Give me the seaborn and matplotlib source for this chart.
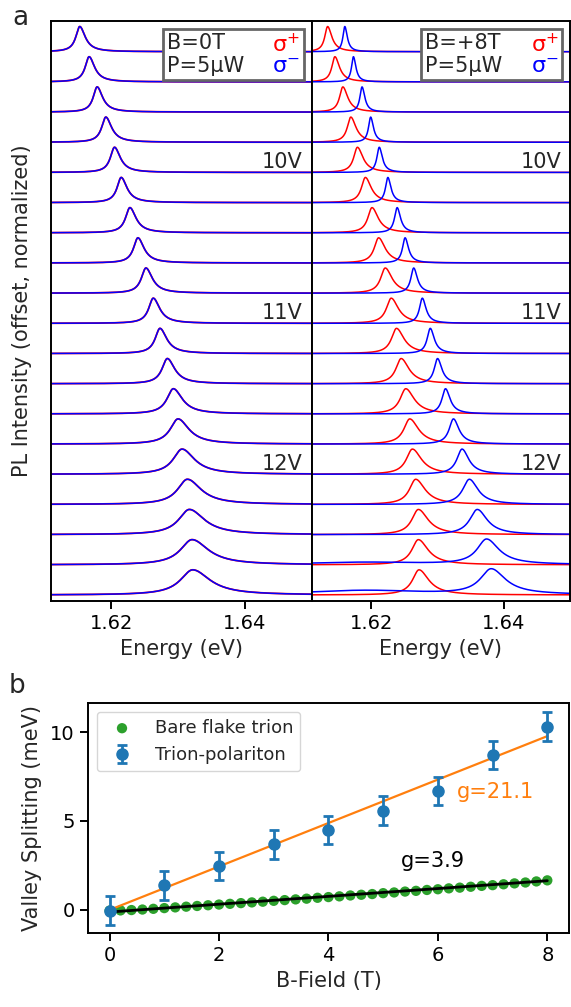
import numpy as np
import pandas as pd
import matplotlib
matplotlib.use("Agg")
import matplotlib.pyplot as plt
import seaborn as sns
from matplotlib.offsetbox import TextArea, VPacker, HPacker, AnchoredOffsetbox

# ------------------------------
# Data
# ------------------------------
# gate voltage of each spectrum, top to bottom
volts = [9.2, 9.4, 9.6, 9.8, 10.0, 10.2, 10.4, 10.6, 10.8, 11.0,
         11.2, 11.4, 11.6, 11.8, 12.0, 12.2, 12.4, 12.6, 12.8]

# B = 0 T: peak energy (eV) and FWHM (meV), both polarisations identical
peak_0T = [1.6153, 1.6167, 1.6179, 1.6192, 1.6205, 1.6215, 1.6228, 1.6240,
           1.6252, 1.6263, 1.6273, 1.6284, 1.6293, 1.6300, 1.6306, 1.6314,
           1.6317, 1.6321, 1.6322]
fwhm_0T = [1.7, 1.7, 1.7, 1.8, 1.8, 1.8, 1.9, 1.9, 2.0, 2.0,
           2.1, 2.3, 2.8, 3.4, 3.9, 4.3, 4.7, 5.1, 5.4]

# B = +8 T: sigma+ (red) and sigma- (blue)
peak_plus = [1.6134, 1.6145, 1.6157, 1.6169, 1.6179, 1.6191, 1.6201, 1.6211,
             1.6221, 1.6230, 1.6238, 1.6245, 1.6252, 1.6258, 1.6262, 1.6267,
             1.6271, 1.6271, 1.6272]
fwhm_plus = [1.3, 1.4, 1.5, 1.6, 1.7, 1.8, 1.9, 2.0, 2.1, 2.2,
             2.3, 2.4, 2.6, 2.7, 2.8, 2.9, 3.0, 3.0, 3.0]
peak_minus = [1.6160, 1.6173, 1.6186, 1.6199, 1.6212, 1.6225, 1.6239, 1.6251,
              1.6264, 1.6277, 1.6289, 1.6300, 1.6312, 1.6324, 1.6337, 1.6348,
              1.6360, 1.6374, 1.6381]
fwhm_minus = [0.8, 0.8, 0.9, 0.9, 1.0, 1.0, 1.1, 1.1, 1.2, 1.2,
              1.3, 1.4, 1.5, 1.8, 2.2, 2.8, 3.2, 4.0, 4.6]
# broad background under the weak sigma- spectra at the bottom
bg_minus = [0, 0, 0, 0, 0, 0, 0, 0, 0, 0, 0, 0, 0, 0, 0, 0, 0, 0.10, 0.18]

# panel b: valley splitting
b_polariton = [0, 1, 2, 3, 4, 5, 6, 7, 8]
split_polariton = [-0.04, 1.38, 2.47, 3.68, 4.49, 5.58, 6.70, 8.70, 10.30]
err_polariton = [0.8, 0.8, 0.8, 0.8, 0.8, 0.8, 0.8, 0.8, 0.8]

b_bare = np.linspace(0, 8, 41)
split_bare = [-0.04, -0.03, -0.01, 0.02, 0.06, 0.10, 0.14, 0.18, 0.22, 0.26,
              0.30, 0.34, 0.38, 0.42, 0.46, 0.51, 0.55, 0.59, 0.63, 0.68,
              0.72, 0.76, 0.81, 0.85, 0.89, 0.94, 0.98, 1.03, 1.07, 1.12,
              1.16, 1.21, 1.25, 1.30, 1.35, 1.39, 1.44, 1.49, 1.54, 1.60, 1.66]

fit_b = [0, 8]
fit_polariton = [0.0, 9.77]
fit_bare = [-0.12, 1.64]

# ------------------------------
# Style
# ------------------------------
sns.set_style("ticks")
plt.rcParams.update({
    "axes.linewidth": 1.4,
    "xtick.major.size": 6,
    "ytick.major.size": 6,
    "xtick.major.width": 1.4,
    "ytick.major.width": 1.4,
    "xtick.labelsize": 14,
    "ytick.labelsize": 14,
    "axes.labelsize": 15,
    "axes.edgecolor": "black",
    "xtick.color": "black",
    "ytick.color": "black",
    "mathtext.fontset": "dejavusans",
})
plt.rcParams["font.family"] = ["DejaVu Sans"]

STEP = 1.2
n = len(volts)
energy = np.linspace(1.611, 1.650, 1200)


def lorentz(center, fwhm_mev, ratio):
    w = fwhm_mev * 1e-3
    hl = w / (1 + ratio)
    hr = ratio * w / (1 + ratio)
    g = np.where(energy < center, hl, hr)
    return 1.0 / (1.0 + ((energy - center) / g) ** 2)


def stack(centers, widths, ratio, extra=None):
    frames = []
    for i, (c, w) in enumerate(zip(centers, widths)):
        y = lorentz(c, w, ratio)
        if extra is not None and extra[i] > 0:
            y = y + extra[i] * lorentz(1.619, 22, 1.0)
        frames.append(pd.DataFrame({"energy": energy,
                                    "intensity": y + (n - 1 - i) * STEP,
                                    "row": i}))
    return pd.concat(frames, ignore_index=True)


def info_box(ax, btext):
    tp = dict(size=15)
    left = VPacker(children=[TextArea(btext, textprops=tp),
                             TextArea("P=5\u03bcW", textprops=tp)],
                   sep=2, align="left", pad=0)
    right = VPacker(children=[TextArea("\u03c3$^{+}$", textprops=dict(size=16, color="red")),
                              TextArea("\u03c3$^{-}$", textprops=dict(size=16, color="blue"))],
                    sep=0, align="right", pad=0)
    box = HPacker(children=[left, right], sep=20, align="center", pad=0)
    ab = AnchoredOffsetbox(loc="upper right", child=box, pad=0.3, borderpad=0.55,
                           frameon=True, prop=dict(size=10))
    ab.patch.set_boxstyle("square", pad=0)
    ab.patch.set_edgecolor("0.4")
    ab.patch.set_linewidth(2)
    ax.add_artist(ab)


# ------------------------------
# Figure
# ------------------------------
W, H = 571, 1007
fig = plt.figure(figsize=(W / 100, H / 100), dpi=100)
ax_l = fig.add_axes([51 / W, 1 - 601 / H, 260.7 / W, 580 / H])
ax_r = fig.add_axes([311.7 / W, 1 - 601 / H, 258.3 / W, 580 / H], sharey=ax_l)
ax_b = fig.add_axes([87.7 / W, 1 - 933 / H, 481.5 / W, 230.3 / H])

# panel a, left: B = 0 T
df0 = stack(peak_0T, fwhm_0T, 1.4)
sns.lineplot(data=df0, x="energy", y="intensity", units="row", estimator=None,
             sort=False, color="red", lw=1.3, ax=ax_l)
sns.lineplot(data=df0, x="energy", y="intensity", units="row", estimator=None,
             sort=False, color="blue", lw=1.1, ax=ax_l)

# panel a, right: B = +8 T
dfp = stack(peak_plus, fwhm_plus, 1.5)
dfm = stack(peak_minus, fwhm_minus, 1.3, extra=bg_minus)
sns.lineplot(data=dfp, x="energy", y="intensity", units="row", estimator=None,
             sort=False, color="red", lw=1.1, ax=ax_r)
sns.lineplot(data=dfm, x="energy", y="intensity", units="row", estimator=None,
             sort=False, color="blue", lw=1.1, ax=ax_r)

for ax in (ax_l, ax_r):
    ax.set_xlim(1.611, 1.650)
    ax.set_xticks([1.62, 1.64])
    ax.set_xticklabels(["1.62", "1.64"])
    ax.set_xlabel("Energy (eV)")
    ax.tick_params(axis="y", left=False, labelleft=False)
    for i, v in enumerate(volts):
        if abs(v - round(v)) < 1e-6:
            ax.text(0.965, (n - 1 - i) * STEP + 0.42, f"{int(round(v))}V",
                    transform=ax.get_yaxis_transform(), ha="right", va="center",
                    fontsize=15)

ax_l.set_ylim(-0.24, 22.82)
ax_l.set_ylabel("PL Intensity (offset, normalized)", labelpad=14)
ax_r.set_ylabel("")
info_box(ax_l, "B=0T")
info_box(ax_r, "B=+8T")

# panel b
sns.scatterplot(x=b_bare, y=split_bare, color="#2ca02c", s=55, edgecolor="none",
                label="Bare flake trion", ax=ax_b, zorder=2)
sns.lineplot(x=fit_b, y=fit_bare, color="black", lw=2, ax=ax_b, zorder=3)
sns.lineplot(x=fit_b, y=fit_polariton, color="#ff7f0e", lw=1.6, ax=ax_b, zorder=3)
ax_b.errorbar(b_polariton, split_polariton, yerr=err_polariton, fmt="o",
              color="#1f77b4", ms=8, elinewidth=2, capsize=3.5, capthick=2,
              label="Trion-polariton", zorder=4)
ax_b.text(6.35, 6.65, "g=21.1", color="#ff7f0e", fontsize=15, va="center")
ax_b.text(5.33, 2.75, "g=3.9", color="black", fontsize=15, va="center")
ax_b.set_xlim(-0.4, 8.4)
ax_b.set_ylim(-1.3, 11.65)
ax_b.set_xticks([0, 2, 4, 6, 8])
ax_b.set_yticks([0, 5, 10])
ax_b.set_xlabel("B-Field (T)")
ax_b.set_ylabel("Valley Splitting (meV)", labelpad=6)
ax_b.legend(loc="upper left", fontsize=13, frameon=True, borderpad=0.4)

fig.text(12.5 / W, 1 - 25 / H, "a", fontsize=19, va="baseline")
fig.text(9 / W, 1 - 693 / H, "b", fontsize=19, va="baseline")

fig.savefig("out.png", dpi=100)
